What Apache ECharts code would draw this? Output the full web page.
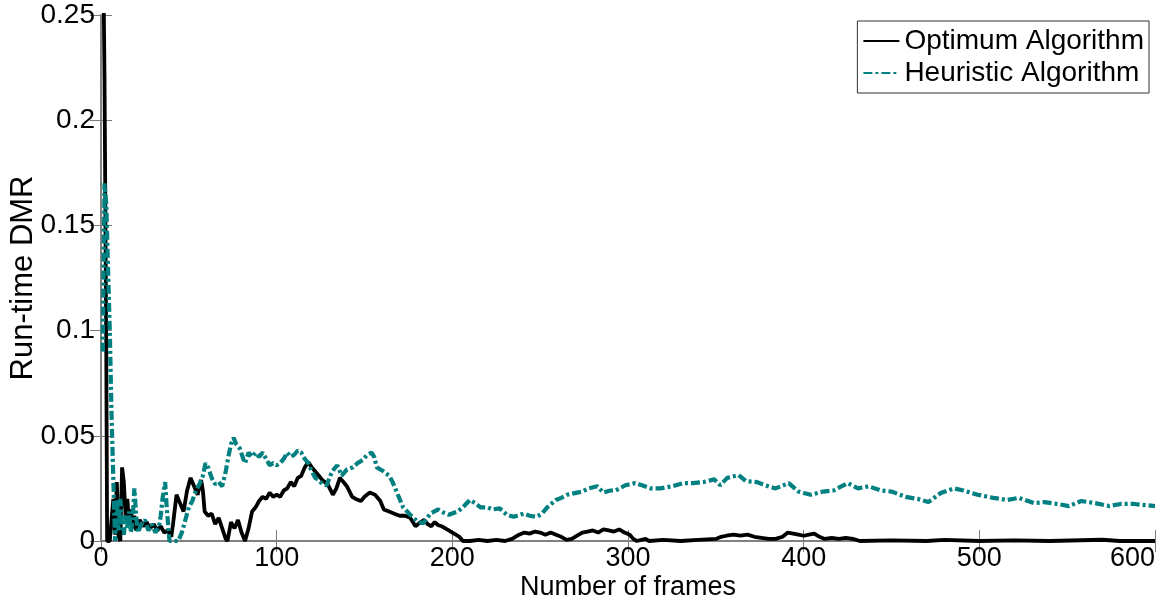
<!DOCTYPE html>
<html>
<head>
<meta charset="utf-8">
<script src="https://cdn.jsdelivr.net/npm/echarts@6/dist/echarts.min.js"></script>
<style>
html,body{margin:0;padding:0;background:#fff;}
#chart{width:1169px;height:601px;}
</style>
</head>
<body>
<div id="chart"></div>
<script>
// ---- data ----
var seriesNames = ["Optimum Algorithm", "Heuristic Algorithm"];
var xTicks = [0, 100, 200, 300, 400, 500, 600];
var yTicks = [0, 0.05, 0.1, 0.15, 0.2, 0.25];

var optFrames = [1,2,3,3.5,5,6,7,8,9,10,11,12,13,14,15,16,17,18,19,20,22,24,26,28,30,32,34,36,38,40,41,43,45,47,49,51,53,55,57,58,59,61,63,65,67,69,71,72,74,76,78,80,82,84,86,88,90,92,94,96,98,100,102,104,106,108,110,112,114,116,118,120,122,124,126,129,132,134,136,138,140,143,145,148,150,153,156,159,161,164,167,170,173,176,179,182,184,186,188,190,192,194,196,198,200,202,204,206,210,215,220,225,230,234,238,241,244,247,250,253,256,259,262,265,268,271,274,277,280,283,286,289,292,295,298,301,303,305,310,312,320,330,340,350,353,356,360,364,368,372,376,380,384,388,391,394,397,400,403,406,409,412,416,420,424,428,432,450,470,480,500,520,540,570,580,600];
var optValues = [0.30,0.22,0.09,0,0,0,0.02,0.003,0.028,0.002,0,0.035,0.028,0.012,0.02,0.008,0.015,0.006,0.012,0.005,0.01,0.007,0.009,0.006,0.008,0.005,0.007,0.004,0.005,0.002,0.008,0.022,0.018,0.014,0.024,0.030,0.026,0.022,0.029,0.024,0.014,0.012,0.013,0.008,0.011,0.006,0.001,0,0.009,0.006,0.01,0.004,0,0.006,0.014,0.016,0.019,0.021,0.02,0.023,0.021,0.022,0.021,0.024,0.025,0.028,0.026,0.030,0.031,0.035,0.0375,0.035,0.033,0.031,0.029,0.027,0.022,0.025,0.030,0.028,0.026,0.021,0.02,0.019,0.021,0.023,0.022,0.019,0.015,0.014,0.013,0.012,0.012,0.011,0.007,0.009,0.010,0.008,0.007,0.009,0.0075,0.007,0.006,0.005,0.004,0.003,0.002,0,0,0.0005,0,0.0005,0,0.001,0.003,0.004,0.0035,0.0045,0.004,0.003,0.004,0.003,0.002,0.0005,0.001,0.0025,0.004,0.0045,0.005,0.004,0.0055,0.005,0.0045,0.0055,0.004,0.003,0.001,0,0.001,0,0.0005,0,0.0005,0.001,0.002,0.0025,0.003,0.0025,0.003,0.002,0.0015,0.001,0.001,0.002,0.004,0.0035,0.003,0.0025,0.003,0.0035,0.002,0.001,0.0015,0.001,0.0015,0.001,0,0.0003,0,0.0005,0,0.0003,0,0.0006,0,0];

var heurFrames = [1,2,3,4,5,6,7,8,9,10,11,12,13,14,15,16,17,18,19,20,21,23,25,27,29,31,33,34,35,36.5,37.5,39,44,46,48,50,52,54,56,58,59.5,61,63,65,67,69,71,72.5,74,75.5,77,79,81,82,84,86,88,90,92,94,96,98,100,102,104,106,108,110,112,114,116,118,120,122,124,126,128.5,130.5,132.5,134.5,137,140,143.5,146,149,151.5,154,155.5,157,161,164,166,168.5,172,176,180.5,183.5,187.5,192,195,198,203,206,210,213,216,220,223,227,231,235,240.5,244,248,251,254,259,262,265.5,271,274,277.5,282.5,286,290,293,298.5,304,308,313,318.5,325,331.5,337,343,349,352.5,356.5,363,367,373.5,378,384,391.5,397,400,404,411,417,425,431,437,444,450,458,465,471,478,485.5,491,499,508,516,522.5,531,537,545,551,558,566,574,580.5,588,595,600];
var heurValues = [0.09,0.17,0.16,0.13,0.10,0.06,0.03,0,0.02,0.005,0.02,0.008,0.003,0.012,0.006,0.014,0.004,0.01,0.025,0.012,0.004,0.008,0.01,0.005,0.008,0.004,0.007,0.012,0.02,0.028,0.015,0,0,0.004,0.010,0.016,0.019,0.024,0.027,0.031,0.037,0.035,0.030,0.027,0.028,0.026,0.033,0.040,0.046,0.049,0.046,0.044,0.039,0.037,0.042,0.04,0.042,0.04,0.042,0.039,0.036,0.037,0.036,0.037,0.039,0.042,0.04,0.041,0.043,0.042,0.039,0.037,0.033,0.030,0.029,0.027,0.0265,0.031,0.034,0.036,0.031,0.034,0.035,0.037,0.0385,0.041,0.042,0.040,0.035,0.033,0.031,0.028,0.023,0.016,0.0125,0.009,0.0085,0.013,0.015,0.0135,0.0125,0.014,0.016,0.0195,0.018,0.016,0.016,0.015,0.0155,0.0125,0.0115,0.013,0.012,0.0115,0.013,0.016,0.0195,0.0205,0.022,0.023,0.0235,0.025,0.026,0.023,0.024,0.024,0.0265,0.0275,0.0265,0.025,0.025,0.026,0.0275,0.0275,0.028,0.0293,0.0265,0.030,0.0313,0.0285,0.028,0.0265,0.025,0.0275,0.0235,0.0228,0.022,0.0235,0.024,0.0275,0.025,0.026,0.024,0.0235,0.021,0.020,0.0185,0.0228,0.025,0.024,0.022,0.0205,0.0195,0.0205,0.018,0.0185,0.0175,0.0166,0.019,0.018,0.0166,0.0176,0.0176,0.017,0.0166];

function zip(xs, ys){ return xs.map(function(x,i){ return [x, ys[i]]; }); }

var FONT = 'Liberation Sans, Arial, Helvetica, sans-serif';
var boxColor = '#7a7a7a';

var chart = echarts.init(document.getElementById('chart'), null, {renderer:'canvas'});
chart.setOption({
  animation:false,
  backgroundColor:'#fff',
  grid:{left:101, right:14, top:15, bottom:60, containLabel:false, outerBoundsMode:'none'},
  legend:{
    data:seriesNames, orient:'vertical', right:20, top:21,
    backgroundColor:'#fff', borderColor:'#333', borderWidth:1,
    padding:[6,5,6,5], itemGap:4, itemWidth:36, itemHeight:12,
    itemStyle:{opacity:0},
    textStyle:{fontFamily:FONT, fontSize:28, color:'#000'}
  },
  xAxis:[{
    type:'value', min:0, max:600, interval:100,
    name:'Number of frames', nameLocation:'middle', nameGap:33, nameMoveOverlap:false,
    nameTextStyle:{fontFamily:FONT, fontSize:27, color:'#000'},
    axisLine:{show:true, lineStyle:{color:boxColor, width:1.5}},
    axisTick:{show:true, inside:true, length:11, lineStyle:{color:boxColor}},
    axisLabel:{fontFamily:FONT, fontSize:27, color:'#000', margin:4, alignMaxLabel:'right',
      formatter:function(v){ return xTicks.indexOf(v) >= 0 ? String(v) : ''; }},
    splitLine:{show:false}
  },{
    type:'value', position:'top', min:0, max:600, interval:100,
    axisLine:{show:true, lineStyle:{color:boxColor, width:1.5}},
    axisTick:{show:true, inside:true, length:11, lineStyle:{color:boxColor}},
    axisLabel:{show:false}, splitLine:{show:false}
  }],
  yAxis:[{
    type:'value', min:0, max:0.25, interval:0.05,
    name:'Run-time DMR', nameLocation:'middle', nameGap:62, nameMoveOverlap:false,
    nameTextStyle:{fontFamily:FONT, fontSize:31, color:'#000'},
    axisLine:{show:true, lineStyle:{color:boxColor, width:1.5}},
    axisTick:{show:true, inside:true, length:11, lineStyle:{color:boxColor}},
    axisLabel:{fontFamily:FONT, fontSize:28, color:'#000', margin:6,
      formatter:function(v){ var r = Math.round(v*100)/100; return yTicks.indexOf(r) >= 0 ? String(r) : ''; }},
    splitLine:{show:false}
  },{
    type:'value', position:'right', min:0, max:0.25, interval:0.05,
    axisLine:{show:true, lineStyle:{color:boxColor, width:1.5}},
    axisTick:{show:true, inside:true, length:11, lineStyle:{color:boxColor}},
    axisLabel:{show:false}, splitLine:{show:false}
  }],
  series:[{
    name:seriesNames[0], type:'line', data:zip(optFrames, optValues),
    symbol:'none', showSymbol:false, clip:true,
    lineStyle:{color:'#000', width:3.8}, itemStyle:{color:'#000'}
  },{
    name:seriesNames[1], type:'line', data:zip(heurFrames, heurValues),
    symbol:'none', showSymbol:false, clip:true,
    lineStyle:{color:'#008080', width:4.2, type:[9,3,3,3]}, itemStyle:{color:'#008080'}
  }]
});
</script>
</body>
</html>
